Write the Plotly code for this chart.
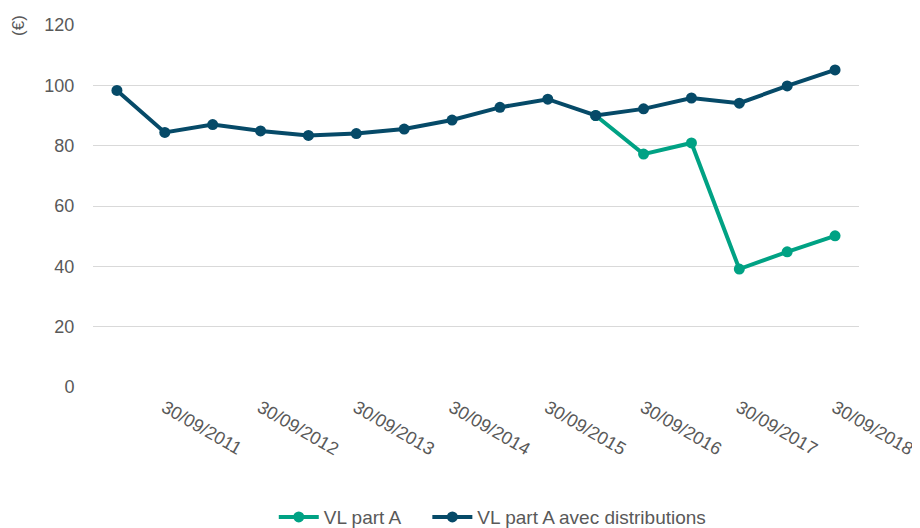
import plotly.graph_objects as go

dates = ["31/03/2011", "30/09/2011", "31/03/2012", "30/09/2012", "31/03/2013", "30/09/2013",
         "31/03/2014", "30/09/2014", "31/03/2015", "30/09/2015", "31/03/2016", "30/09/2016",
         "31/03/2017", "30/09/2017", "31/03/2018", "30/09/2018"]
vl_part_a = [None, None, None, None, None, None, None, None, None, None,
             90.0, 77.2, 80.9, 39.1, 44.8, 50.1]
vl_avec_distrib = [98.3, 84.4, 87.0, 84.9, 83.4, 84.0, 85.5, 88.5, 92.7, 95.4,
                   90.0, 92.2, 95.8, 94.1, 99.8, 105.1]
tick_labels = dates[1::2]
y_ticks = [0, 20, 40, 60, 80, 100, 120]
series_names = ["VL part A", "VL part A avec distributions"]

green = "#00A284"
navy = "#064A68"
font = "Liberation Sans, Arial, sans-serif"
grey = "#595959"
pad = "\u00a0" * 4

fig = go.Figure()
fig.add_trace(go.Scatter(x=dates, y=vl_part_a, name=series_names[0] + pad, mode="lines+markers",
                         line=dict(color=green, width=4), marker=dict(size=11, color=green)))
fig.add_trace(go.Scatter(x=dates, y=vl_avec_distrib, name=series_names[1],
                         mode="lines+markers",
                         line=dict(color=navy, width=4), marker=dict(size=11, color=navy)))

fig.update_layout(
    width=912, height=520,
    margin=dict(l=85, r=61, t=17, b=141),
    plot_bgcolor="white", paper_bgcolor="white",
    font=dict(family=font, size=18, color=grey),
    showlegend=True,
    legend=dict(orientation="h", x=0.236, xanchor="left", y=0.021, yref="container",
                yanchor="middle", font=dict(size=19, color=grey), itemwidth=40),
    xaxis=dict(type="category", range=[-0.5, 15.5], tickmode="array", tickvals=tick_labels,
               ticktext=tick_labels, tickangle=30, showgrid=False, zeroline=False,
               showline=False, ticks="", automargin=False, ticklabelstandoff=6,
               tickfont=dict(size=18, color=grey)),
    yaxis=dict(range=[0, 120], tickvals=y_ticks, showgrid=True, gridcolor="#D9D9D9",
               gridwidth=1.3, zeroline=False, showline=False, ticks="outside",
               ticklen=14, tickcolor="rgba(0,0,0,0)", automargin=False,
               tickfont=dict(size=18, color=grey)),
)
fig.add_annotation(text="(€)", xref="paper", yref="paper", x=-0.098, y=1.0,
                   xanchor="center", yanchor="middle", textangle=-90, showarrow=False,
                   font=dict(size=17, color=grey))

fig.write_html("out.html")
